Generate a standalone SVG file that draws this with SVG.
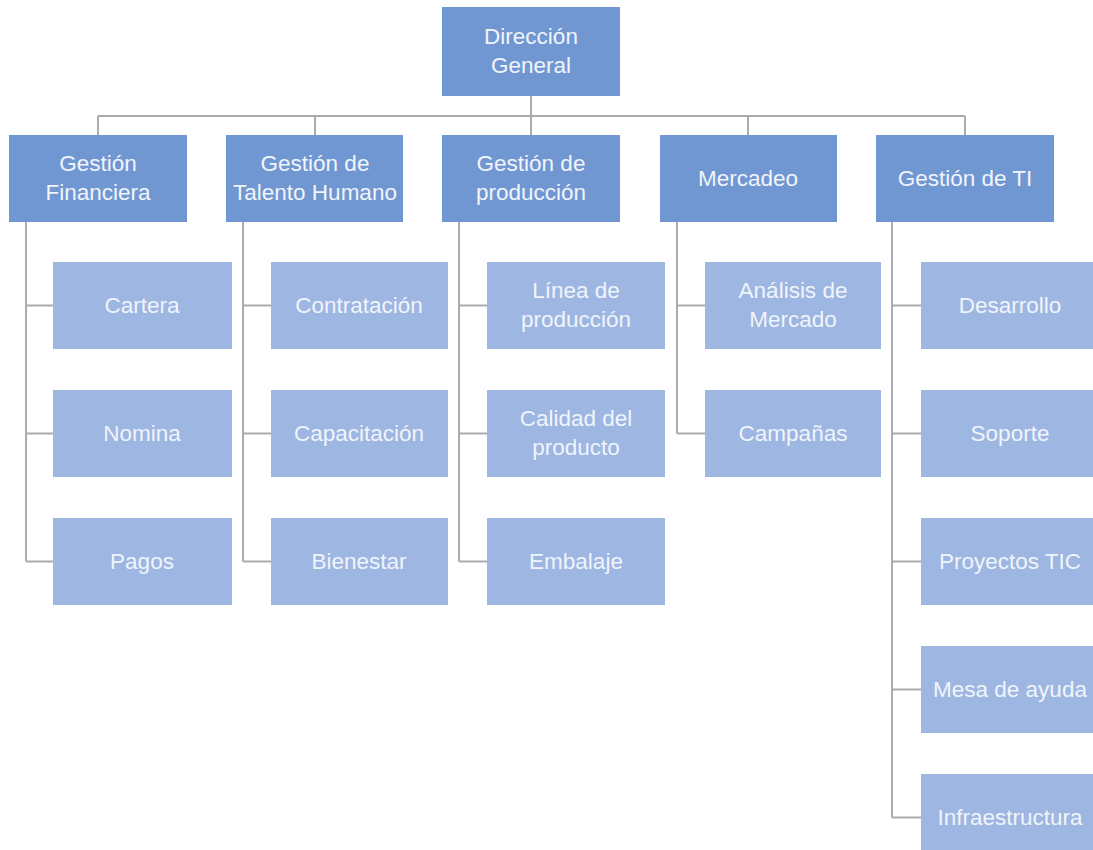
<svg xmlns="http://www.w3.org/2000/svg" width="1093" height="850" viewBox="0 0 1093 850">
<style>
.l1{fill:#7197d2}
.l2{fill:#9eb6e2}
text{font-family:"Liberation Sans",Arial,sans-serif;font-size:22.5px;fill:#f0f4fb;text-anchor:middle}
.c{fill:none;stroke:#a9abae;stroke-width:2}
</style>
<rect width="1093" height="850" fill="#ffffff"/>
<g id="connectors" class="c">
<path d="M531 96V116M98 116H965M98 116V135M315 116V135M531 116V135M748 116V135M965 116V135"/>
<path d="M26 222V561.5M26 305.5H53M26 433.5H53M26 561.5H53"/>
<path d="M243 222V561.5M243 305.5H271M243 433.5H271M243 561.5H271"/>
<path d="M459 222V561.5M459 305.5H487M459 433.5H487M459 561.5H487"/>
<path d="M677 222V433.5M677 305.5H705M677 433.5H705"/>
<path d="M892 222V817.5M892 305.5H921M892 433.5H921M892 561.5H921M892 689.5H921M892 817.5H921"/>
</g>
<g id="n-direccion"><rect class="l1" x="442" y="7" width="178" height="89"/><text x="531" y="44">Dirección</text><text x="531" y="73">General</text></g>
<g id="n-financiera"><rect class="l1" x="9" y="135" width="178" height="87"/><text x="98" y="171">Gestión</text><text x="98" y="200">Financiera</text></g>
<g id="n-talento"><rect class="l1" x="226" y="135" width="177" height="87"/><text x="315" y="171">Gestión de</text><text x="315" y="200">Talento Humano</text></g>
<g id="n-produccion"><rect class="l1" x="442" y="135" width="178" height="87"/><text x="531" y="171">Gestión de</text><text x="531" y="200">producción</text></g>
<g id="n-mercadeo"><rect class="l1" x="660" y="135" width="177" height="87"/><text x="748" y="186">Mercadeo</text></g>
<g id="n-ti"><rect class="l1" x="876" y="135" width="178" height="87"/><text x="965" y="186">Gestión de TI</text></g>
<g id="n-cartera"><rect class="l2" x="53" y="262" width="179" height="87"/><text x="142" y="313">Cartera</text></g>
<g id="n-nomina"><rect class="l2" x="53" y="390" width="179" height="87"/><text x="142" y="441">Nomina</text></g>
<g id="n-pagos"><rect class="l2" x="53" y="518" width="179" height="87"/><text x="142" y="569">Pagos</text></g>
<g id="n-contratacion"><rect class="l2" x="271" y="262" width="177" height="87"/><text x="359" y="313">Contratación</text></g>
<g id="n-capacitacion"><rect class="l2" x="271" y="390" width="177" height="87"/><text x="359" y="441">Capacitación</text></g>
<g id="n-bienestar"><rect class="l2" x="271" y="518" width="177" height="87"/><text x="359" y="569">Bienestar</text></g>
<g id="n-linea"><rect class="l2" x="487" y="262" width="178" height="87"/><text x="576" y="298">Línea de</text><text x="576" y="327">producción</text></g>
<g id="n-calidad"><rect class="l2" x="487" y="390" width="178" height="87"/><text x="576" y="426">Calidad del</text><text x="576" y="455">producto</text></g>
<g id="n-embalaje"><rect class="l2" x="487" y="518" width="178" height="87"/><text x="576" y="569">Embalaje</text></g>
<g id="n-analisis"><rect class="l2" x="705" y="262" width="176" height="87"/><text x="793" y="298">Análisis de</text><text x="793" y="327">Mercado</text></g>
<g id="n-campanas"><rect class="l2" x="705" y="390" width="176" height="87"/><text x="793" y="441">Campañas</text></g>
<g id="n-desarrollo"><rect class="l2" x="921" y="262" width="178" height="87"/><text x="1010" y="313">Desarrollo</text></g>
<g id="n-soporte"><rect class="l2" x="921" y="390" width="178" height="87"/><text x="1010" y="441">Soporte</text></g>
<g id="n-proyectos"><rect class="l2" x="921" y="518" width="178" height="87"/><text x="1010" y="569">Proyectos TIC</text></g>
<g id="n-mesa"><rect class="l2" x="921" y="646" width="178" height="87"/><text x="1010" y="697">Mesa de ayuda</text></g>
<g id="n-infra"><rect class="l2" x="921" y="774" width="178" height="87"/><text x="1010" y="825">Infraestructura</text></g>
</svg>
